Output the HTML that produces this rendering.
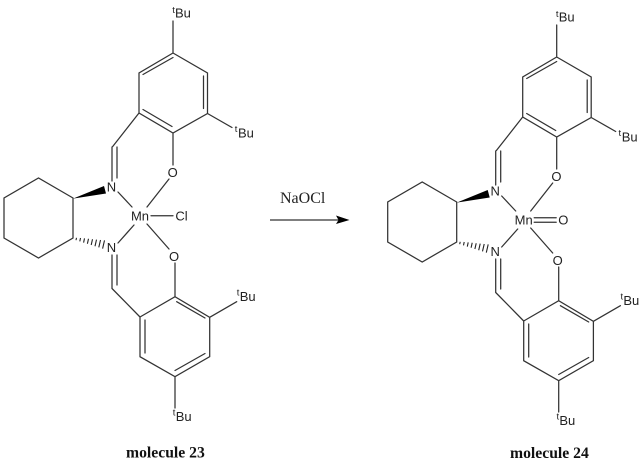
<!DOCTYPE html>
<html>
<head>
<meta charset="utf-8">
<style>
html,body{margin:0;padding:0;background:#fff;width:643px;height:467px;overflow:hidden}
svg{display:block}
.b{stroke:#333;stroke-width:1.25;fill:none;stroke-linecap:round}
.a{font-family:"Liberation Sans",sans-serif;font-size:13px;fill:#222}
.t{font-family:"Liberation Sans",sans-serif;font-size:9.5px;fill:#222}
.m{text-anchor:middle}
.l{font-family:"Liberation Serif",serif;font-weight:bold;font-size:15.7px;fill:#111}
.r{font-family:"Liberation Serif",serif;font-size:16px;fill:#222}
</style>
</head>
<body>
<svg width="643" height="467" viewBox="0 0 643 467" xmlns="http://www.w3.org/2000/svg">
<g>
<path class="b" d="M73 198L38.5 178L4 198V238L38.5 258L73 238V198
M173 53L207.5 73V113.5L173 133L139 113V73L173 53
M143 74.5L173 57.5M203.5 76V108.5M143 109.5L172 126.5
M173 53V21M207.5 113.5L232 127.5M173 133V165
M139 113L112.7 146.5M112 147V181M117 147V178
M118 192L132 207M169 179L147 207M151 215.7H173M118 243L134 225M147 224L169 249
M112 255V288.5M117 255V285M112 288.5L140 317
M140 317L175 296.7L209.7 317.3V356.7L175 376.7L140 356.7V317
M145 320V353M176.7 301.7L205 318M175 370.5L205 353.5
M175 263V296.7M209.7 317.3L236.7 301.7M175 376.7V408"/>
<path d="M73 198.6L104 186L106 193.5Z" fill="#000"/>
<path d="M76.5 237.8L76 240.2M80.5 238L79.8 241.4M84.5 238.4L83.6 242.6M88.5 238.8L87.4 243.8M92.5 239.2L91.2 245M96.5 239.6L95 246.2M100.5 240L98.8 247.4M104.5 240.4L102.6 248.6" stroke="#222" stroke-width="1.1" fill="none"/>
<text class="t" x="172.2" y="13">t</text><text class="a" x="175" y="17.5">Bu</text>
<text class="t" x="234.8" y="132">t</text><text class="a" x="238" y="137.5">Bu</text>
<text class="t" x="236.8" y="295.5">t</text><text class="a" x="239.7" y="301">Bu</text>
<text class="t" x="172.8" y="415.5">t</text><text class="a" x="175.7" y="421">Bu</text>
<text class="a m" x="172.7" y="177">O</text>
<text class="a m" x="174" y="261">O</text>
<text class="a m" x="111.5" y="191.5">N</text>
<text class="a m" x="111.5" y="252">N</text>
<text class="a m" x="140" y="220.4">Mn</text>
<text class="a m" x="181.5" y="220.4">Cl</text>
<text class="l" x="126" y="457.5">molecule 23</text>
</g>
<g transform="translate(383.7 4)">
<path class="b" d="M73 198L38.5 178L4 198V238L38.5 258L73 238V198
M173 53L207.5 73V113.5L173 133L139 113V73L173 53
M143 74.5L173 57.5M203.5 76V108.5M143 109.5L172 126.5
M173 53V21M207.5 113.5L232 127.5M173 133V165
M139 113L112.7 146.5M112 147V181M117 147V178
M118 192L132 207M169 179L147 207M118 243L134 225M147 224L169 249
M112 255V288.5M117 255V285M112 288.5L140 317
M140 317L175 296.7L209.7 317.3V356.7L175 376.7L140 356.7V317
M145 320V353M176.7 301.7L205 318M175 370.5L205 353.5
M175 263V296.7M209.7 317.3L236.7 301.7M175 376.7V408
M150.5 213.7H172.5M150.5 218.3H172.5"/>
<path d="M73 198.6L104 186L106 193.5Z" fill="#000"/>
<path d="M76.5 237.8L76 240.2M80.5 238L79.8 241.4M84.5 238.4L83.6 242.6M88.5 238.8L87.4 243.8M92.5 239.2L91.2 245M96.5 239.6L95 246.2M100.5 240L98.8 247.4M104.5 240.4L102.6 248.6" stroke="#222" stroke-width="1.1" fill="none"/>
<text class="t" x="172.2" y="13">t</text><text class="a" x="175" y="17.5">Bu</text>
<text class="t" x="234.8" y="132">t</text><text class="a" x="238" y="137.5">Bu</text>
<text class="t" x="236.8" y="295.5">t</text><text class="a" x="239.7" y="301">Bu</text>
<text class="t" x="172.8" y="415.5">t</text><text class="a" x="175.7" y="421">Bu</text>
<text class="a m" x="172.7" y="177">O</text>
<text class="a m" x="174" y="261">O</text>
<text class="a m" x="111.5" y="191.5">N</text>
<text class="a m" x="111.5" y="252">N</text>
<text class="a m" x="140" y="220.4">Mn</text>
<text class="a m" x="179.6" y="220.4">O</text>
</g>
<text class="l" x="510" y="458">molecule 24</text>
<text class="r" x="280" y="203">NaOCl</text>
<path d="M270 220H340" stroke="#555" stroke-width="1.5" fill="none"/>
<path d="M336 215.5L349.5 220L336 224L338.5 220Z" fill="#000"/>
</svg>
</body>
</html>
